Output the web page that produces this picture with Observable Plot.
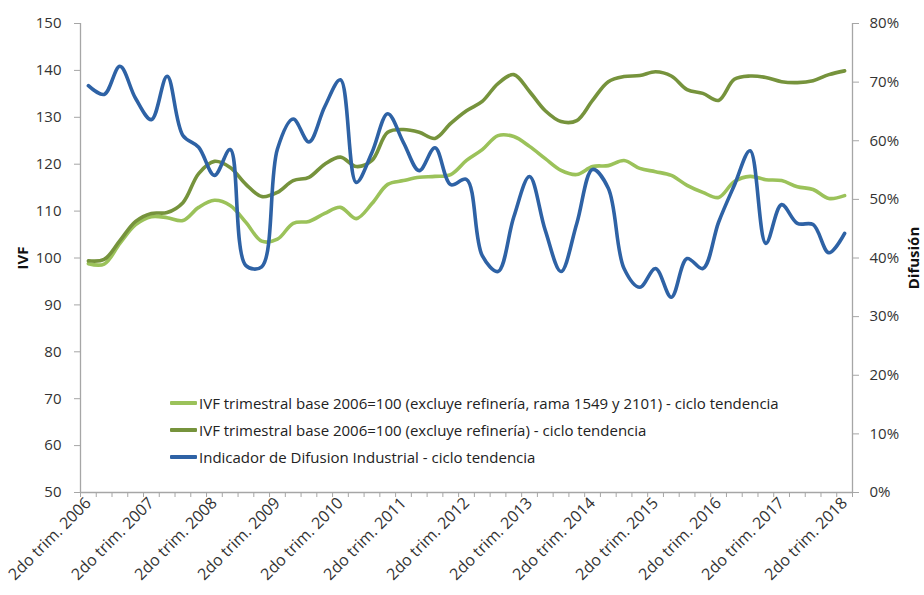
<!DOCTYPE html>
<html>
<head>
<meta charset="utf-8">
<script src="https://cdn.jsdelivr.net/npm/d3@7"></script>
<script src="https://cdn.jsdelivr.net/npm/@observablehq/plot@0.6"></script>
<style>
  body { margin: 0; background: #fff; }
  #wrap { position: relative; width: 924px; height: 595px; font-family: "Open Sans", sans-serif; overflow: hidden; }
  #legend { position: absolute; left: 170px; top: 389px; font-size: 15px; color: #222; }
  .row { display: flex; align-items: center; height: 27px; white-space: nowrap; }
  .sw { width: 27px; height: 4px; margin-right: 2px; border-radius: 1px; }
  .ttl { position: absolute; font-weight: bold; font-size: 15px; color: #111; white-space: nowrap;
         transform: translate(-50%, -50%) rotate(-90deg); }
</style>
</head>
<body>
<div id="wrap">
  <div id="chart"></div>
  <div id="legend"></div>
  <div class="ttl" id="ttlL" style="left:22px; top:258px;"></div>
  <div class="ttl" id="ttlR" style="left:913px; top:258px;"></div>
</div>
<script>
// ---- data ----
const quarters = [];
const qNames = ["1er trim.", "2do trim.", "3er trim.", "4to trim."];
for (let y = 2006; y <= 2018; y++) for (let q = 0; q < 4; q++) {
  if ((y === 2006 && q < 1) || (y === 2018 && q > 1)) continue;
  quarters.push(qNames[q] + " " + y);
}
const tickLabels = ["2do trim. 2006","2do trim. 2007","2do trim. 2008","2do trim. 2009","2do trim. 2010",
  "2do trim. 2011","2do trim. 2012","2do trim. 2013","2do trim. 2014","2do trim. 2015","2do trim. 2016",
  "2do trim. 2017","2do trim. 2018"];

const seriesNames = [
  "IVF trimestral base 2006=100 (excluye refinería, rama 1549 y 2101) - ciclo tendencia",
  "IVF trimestral base 2006=100 (excluye refinería) - ciclo tendencia",
  "Indicador de Difusion Industrial - ciclo tendencia"
];
const seriesColors = ["#9bc25a", "#76933c", "#2e62a5"];

// IVF (excluye refinería, rama 1549 y 2101)
const ivfSinRamas = [98.8, 98.7, 103.1, 107.1, 108.8, 108.6, 108.0, 110.8, 112.3, 111.2,
  107.6, 103.6, 104.0, 107.4, 107.8, 109.5, 110.8, 108.4, 111.6, 115.7,
  116.5, 117.2, 117.4, 117.8, 120.8, 123.1, 126.1, 125.9, 123.8, 121.2,
  118.7, 117.8, 119.5, 119.7, 120.8, 119.1, 118.4, 117.6, 115.5, 114.0,
  112.9, 116.3, 117.4, 116.7, 116.5, 115.2, 114.6, 112.7, 113.3];
// IVF (excluye refinería)
const ivfSinRefineria = [99.4, 99.7, 103.7, 107.8, 109.5, 109.7, 111.8, 118.0, 120.6, 119.3,
  115.7, 113.1, 114.0, 116.5, 117.2, 120.0, 121.5, 119.5, 120.8, 126.8,
  127.4, 126.8, 125.5, 128.7, 131.4, 133.4, 137.2, 139.1, 135.5, 131.4,
  129.1, 129.3, 133.6, 137.6, 138.7, 138.9, 139.7, 138.8, 135.9, 135.1,
  133.6, 138.1, 138.8, 138.5, 137.6, 137.4, 137.8, 139.1, 139.9];
// Indicador de Difusión Industrial (%)
const difusion = [69.4, 67.9, 72.7, 67.2, 63.6, 71.0, 60.9, 58.9, 54.1, 58.5,
  38.7, 38.5, 58.6, 63.7, 59.8, 65.8, 70.4, 52.9, 58.0, 64.6,
  59.7, 54.9, 58.8, 52.5, 53.4, 40.4, 37.7, 47.0, 53.9, 44.7,
  37.7, 45.9, 55.1, 51.9, 38.2, 35.0, 38.2, 33.3, 39.9, 38.2,
  46.1, 52.4, 58.3, 42.5, 49.1, 45.9, 45.7, 40.9, 44.2];

const ivfTicks = [50, 60, 70, 80, 90, 100, 110, 120, 130, 140, 150];
const pctTicks = [0, 10, 20, 30, 40, 50, 60, 70, 80];
const ivfDomain = [50, 150];
const pctDomain = [0, 80];

// ---- build ----
const toIVF = p => ivfDomain[0] + (p - pctDomain[0]) * (ivfDomain[1] - ivfDomain[0]) / (pctDomain[1] - pctDomain[0]);
const fromIVF = v => pctDomain[0] + (v - ivfDomain[0]) * (pctDomain[1] - pctDomain[0]) / (ivfDomain[1] - ivfDomain[0]);
const n = quarters.length;
const rows = (vals, k, f = v => v) => vals.map((v, i) => ({i, v: f(v), k}));
const data = [
  ...rows(ivfSinRamas, 0),
  ...rows(ivfSinRefineria, 1),
  ...rows(difusion, 2, toIVF)
];
const labelIdx = tickLabels.map(t => quarters.indexOf(t));
const bounds = d3.range(n + 1).map(i => i - 0.5);
const axisGray = "#a6a6a6";
const textCol = "#333";

const chart = Plot.plot({
  width: 924, height: 595,
  marginLeft: 80, marginRight: 72, marginTop: 23, marginBottom: 103,
  style: {fontFamily: "Open Sans, sans-serif", fontSize: "15px", background: "white", overflow: "visible"},
  x: {domain: [-0.5, n - 0.5]},
  y: {domain: ivfDomain},
  marks: [
    Plot.ruleY([ivfDomain[0]], {stroke: axisGray, strokeWidth: 1.3}),
    Plot.ruleX([-0.5, n - 0.5], {stroke: axisGray, strokeWidth: 1.3}),
    Plot.axisX({ticks: bounds, tickSize: 5, tickFormat: () => "", stroke: axisGray, label: null}),
    Plot.axisX({ticks: labelIdx, tickSize: 0, tickPadding: 8, tickRotate: -45, fontSize: 16,
      tickFormat: i => quarters[i], fill: textCol, label: null}),
    Plot.axisY({ticks: ivfTicks, tickSize: 6, tickPadding: 13, stroke: axisGray, fill: textCol, label: null}),
    Plot.axisY({anchor: "right", ticks: pctTicks.map(toIVF), tickSize: 6, tickPadding: 11,
      tickFormat: d => Math.round(fromIVF(d)) + "%", stroke: axisGray, fill: textCol, label: null}),
    ...[0, 1, 2].map(k => Plot.line(data.filter(d => d.k === k), {
      x: "i", y: "v", stroke: seriesColors[k], strokeWidth: 3.6, curve: "catmull-rom"
    }))
  ]
});
document.getElementById("chart").appendChild(chart);

const leg = document.getElementById("legend");
seriesNames.forEach((name, k) => {
  const r = document.createElement("div");
  r.className = "row";
  r.innerHTML = `<div class="sw" style="background:${seriesColors[k]}"></div><span>${name}</span>`;
  leg.appendChild(r);
});
document.getElementById("ttlL").textContent = "IVF";
document.getElementById("ttlR").textContent = "Difusión";
</script>
</body>
</html>
